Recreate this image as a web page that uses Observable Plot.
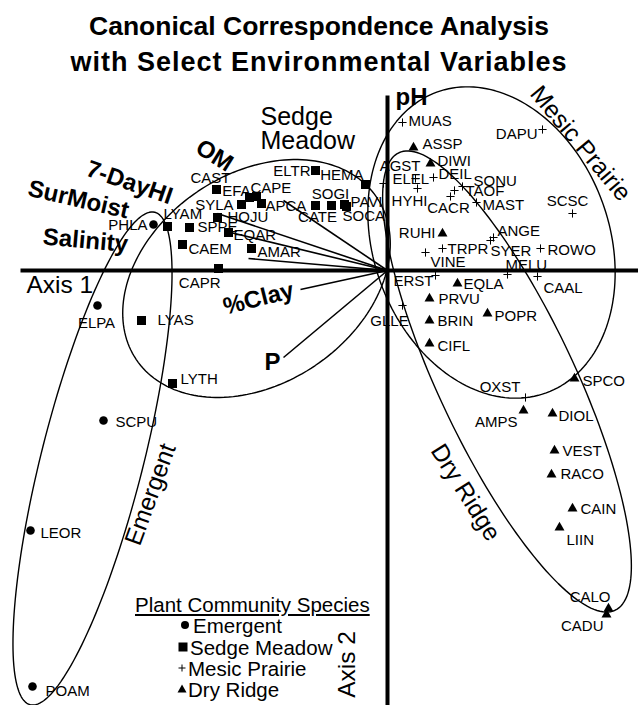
<!DOCTYPE html>
<html>
<head>
<meta charset="utf-8">
<script src="https://cdn.jsdelivr.net/npm/d3@7"></script>
<script src="https://cdn.jsdelivr.net/npm/@observablehq/plot@0.6"></script>
<style>
  body { margin: 0; background: #fff; }
  #wrap { position: relative; width: 638px; height: 705px; overflow: hidden; font-family: "Liberation Sans", Arial, Helvetica, sans-serif; color: #000; }
  #title { height: 80px; box-sizing: border-box; padding-top: 8px; text-align: center; font-weight: bold; font-size: 26.5px; line-height: 36px; }
  #title .l2 { letter-spacing: 1px; font-size: 27px; }
  #legend { position: absolute; left: 135px; top: 594px; font-size: 20.5px; line-height: 21.25px; }
  #legend .lt { text-decoration: underline; white-space: nowrap; }
  #legend .li { position: relative; white-space: nowrap; }
  #legend .li svg { position: absolute; top: 4px; }
  #chart svg { display: block; }
</style>
</head>
<body>
<div id="wrap">
  <div id="title">Canonical Correspondence Analysis<br><span class="l2">with Select Environmental Variables</span></div>
  <div id="chart"></div>
  <div id="legend"></div>
</div>
<script>
// ---------------- data (CCA scores, Axis 1 / Axis 2) ----------------
const groups = ["Emergent", "Sedge Meadow", "Mesic Prairie", "Dry Ridge"];

const emergentNames = ["PHLA","ELPA","SCPU","LEOR","POAM"];
const emergentAxis1 = [-2.34,-2.90,-2.84,-3.57,-3.55];
const emergentAxis2 = [0.46,-0.35,-1.50,-2.60,-4.16];

const sedgeNames = ["LYAM","CAST","SYLA","EFA","CAPE","APCA","HOJU","SPPE","EQAR","CAEM","AMAR","CAPR","LYAS","LYTH","ELTR","HEMA","SOGI","CATE","PAVI","SOCA"];
const sedgeAxis1 = [-2.20,-1.71,-1.46,-1.38,-1.31,-1.26,-1.70,-1.98,-1.59,-2.05,-1.36,-1.69,-2.46,-2.15,-0.72,-0.22,-0.56,-0.72,-0.43,-0.41];
const sedgeAxis2 = [0.44,0.81,0.66,0.73,0.74,0.67,0.53,0.43,0.38,0.26,0.22,0.02,-0.50,-1.13,1.00,0.86,0.65,0.65,0.66,0.64];

const mesicNames = ["MUAS","DAPU","AGST","ELEL","DEIL","SONU","TAOF","CACR","MAST","HYHI","SCSC","ANGE","SYER","TRPR","VINE","ROWO","MELU","CAAL","ERST","GLLE","OXST"];
const mesicAxis1 = [0.15,1.55,0.28,-0.04,0.46,0.75,0.67,0.63,0.89,0.30,1.85,1.06,1.03,0.55,0.38,1.53,1.20,1.50,0.48,0.15,1.38];
const mesicAxis2 = [1.48,1.41,0.92,0.87,0.93,0.84,0.80,0.74,0.68,0.82,0.57,0.33,0.30,0.22,0.18,0.22,-0.04,-0.06,-0.05,-0.35,-1.27];

const dryNames = ["ASSP","DIWI","RUHI","EQLA","PRVU","BRIN","POPR","CIFL","SPCO","AMPS","DIOL","VEST","RACO","CAIN","LIIN","CALO","CADU"];
const dryAxis1 = [0.26,0.43,0.55,0.70,0.42,0.42,1.00,0.42,1.87,1.36,1.65,1.67,1.64,1.85,1.72,2.21,2.19];
const dryAxis2 = [1.23,1.07,0.37,-0.13,-0.28,-0.50,-0.43,-0.73,-1.08,-1.40,-1.43,-1.80,-2.04,-2.38,-2.57,-3.38,-3.44];

// environmental vectors (tip) and their label anchors
const envNames = ["OM","7-DayHI","SurMoist","Salinity","%Clay","P","pH"];
const envAxis1 = [-1.04,-1.70,-1.57,-1.39,-0.87,-1.04,0];
const envAxis2 = [0.70,0.57,0.38,0.12,-0.19,-0.87,1.73];
const envLabelAxis1 = [-1.73,-2.58,-3.09,-3.02,-1.29,-1.15,0.24];
const envLabelAxis2 = [1.15,0.88,0.71,0.30,-0.28,-0.92,1.73];

// community ellipses (center, semi-axes, orientation of major axis in degrees)
const ellipseCenterAxis1 = [-2.95,-1.31,1.04,1.195];
const ellipseCenterAxis2 = [-1.88,-0.08,0.28,-1.11];
const ellipseSemiMajor = [2.54,1.45,1.60,2.53];
const ellipseSemiMinor = [0.51,1.05,1.18,0.68];
const ellipseAngle = [75.8,34,-70,-64.7];
const groupLabelAxis1 = [-2.37,-1.27,1.93,0.78];
const groupLabelAxis2 = [-2.24,1.41,1.27,-2.22];

// axes
const axisExtentAxis1 = [-3.67, 2.51];
const axisExtentAxis2 = [-4.35, 1.75];
const axisLabelNames = ["Axis 1","Axis 2"];
const axisLabelAxis1 = [-3.61,-0.40];
const axisLabelAxis2 = [-0.15,-3.94];

// ---------------- build tables ----------------
const tbl = (names, xs, ys, group) => names.map((n, i) => ({name: n, x: xs[i], y: ys[i], group}));
const emergent = tbl(emergentNames, emergentAxis1, emergentAxis2, groups[0]);
const sedge = tbl(sedgeNames, sedgeAxis1, sedgeAxis2, groups[1]);
const mesic = tbl(mesicNames, mesicAxis1, mesicAxis2, groups[2]);
const dry = tbl(dryNames, dryAxis1, dryAxis2, groups[3]);
const allSpecies = [...emergent, ...sedge, ...mesic, ...dry];

const env = envNames.map((n, i) => ({name: n, x: envAxis1[i], y: envAxis2[i], lx: envLabelAxis1[i], ly: envLabelAxis2[i]}));

const ellipsePts = groups.flatMap((g, i) => {
  const th = ellipseAngle[i] * Math.PI / 180;
  return d3.range(0, 360, 2).map(t => {
    const r = t * Math.PI / 180;
    const u = ellipseSemiMajor[i] * Math.cos(r), v = ellipseSemiMinor[i] * Math.sin(r);
    return {group: g, x: ellipseCenterAxis1[i] + u * Math.cos(th) - v * Math.sin(th),
                      y: ellipseCenterAxis2[i] + u * Math.sin(th) + v * Math.cos(th)};
  });
});
const groupLabels = groups.map((g, i) => ({name: g, x: groupLabelAxis1[i], y: groupLabelAxis2[i]}));
const axisLines = [
  {x1: axisExtentAxis1[0], y1: 0, x2: axisExtentAxis1[1], y2: 0},
  {x1: 0, y1: axisExtentAxis2[0], x2: 0, y2: axisExtentAxis2[1]}
];
const axisLabels = axisLabelNames.map((n, i) => ({name: n, x: axisLabelAxis1[i], y: axisLabelAxis2[i]}));

// ---------------- presentation ----------------
const FONT = "Liberation Sans, Arial, Helvetica, sans-serif";
// label placement: [anchor, dx px, dy px]
const nudge = {
  PHLA:["end",-6,1], ELPA:["middle",-1,18], SCPU:["start",12,2], LEOR:["start",10,3], POAM:["start",13,5],
  LYAM:["start",-4,-12], CAST:["middle",-6,-11], SYLA:["end",-8,1], EFA:["end",1,-6], CAPE:["start",-6,-8],
  APCA:["start",4,3], HOJU:["start",10,0], SPPE:["start",8,0], EQAR:["start",5,3], CAEM:["start",6,5],
  AMAR:["start",6,4], CAPR:["end",2,15], LYAS:["start",16,0], LYTH:["start",8,-4], ELTR:["end",-5,1],
  HEMA:["end",-2,-9], SOGI:["middle",-1,-11], CATE:["middle",2,12], PAVI:["start",6,-2], SOCA:["start",-4,10],
  MUAS:["start",6,-1], DAPU:["end",-5,5], AGST:["end",5,-12], ELEL:["start",9,-4], DEIL:["start",5,-3],
  SONU:["start",11,-5], TAOF:["start",11,1], CACR:["middle",-2,12], MAST:["start",6,3], HYHI:["middle",-8,13],
  SCSC:["middle",-5,-12], ANGE:["start",4,-6], SYER:["start",0,11], TRPR:["start",5,1], VINE:["start",5,10],
  ROWO:["start",7,2], MELU:["start",-2,-9], CAAL:["start",6,12], ERST:["end",-2,6], GLLE:["middle",-13,16],
  OXST:["end",-5,-10],
  ASSP:["start",9,-3], DIWI:["start",7,-2], RUHI:["end",-7,0], EQLA:["start",6,1], PRVU:["start",9,1],
  BRIN:["start",8,1], POPR:["start",7,3], CIFL:["start",8,3], SPCO:["start",8,3], AMPS:["end",-6,12],
  DIOL:["start",6,3], VEST:["start",8,1], RACO:["start",9,0], CAIN:["start",8,1], LIIN:["start",7,13],
  CALO:["end",2,-11], CADU:["end",-3,12]
};
const envRotate = {"OM": 32, "7-DayHI": 19, "SurMoist": 13, "Salinity": 5, "%Clay": -14, "P": 0, "pH": 0};
const groupRotate = {"Emergent": -70, "Mesic Prairie": 50, "Dry Ridge": 58};

const chart = Plot.plot({
  width: 638, height: 625, margin: 0,
  x: {domain: [-3.87, 2.51], axis: null},
  y: {domain: [-4.35, 1.90], axis: null},
  style: {fontFamily: FONT, background: "white", color: "black"},
  marks: [
    Plot.line(ellipsePts, {x: "x", y: "y", z: "group", stroke: "black", strokeWidth: 1.4, curve: "linear-closed"}),
    Plot.link(axisLines, {x1: "x1", y1: "y1", x2: "x2", y2: "y2", stroke: "black", strokeWidth: 4}),
    Plot.link(env, {x1: 0, y1: 0, x2: "x", y2: "y", stroke: "black", strokeWidth: 1.6}),
    Plot.dot(emergent, {x: "x", y: "y", symbol: "circle", r: 4.3, fill: "black", stroke: "none"}),
    Plot.dot(sedge, {x: "x", y: "y", symbol: "square", r: 5.1, fill: "black", stroke: "none"}),
    Plot.dot(mesic, {x: "x", y: "y", symbol: "plus", r: 2.75, fill: "none", stroke: "black", strokeWidth: 1}),
    Plot.dot(dry, {x: "x", y: "y", symbol: "triangle", r: 3.7, fill: "black", stroke: "none"}),
    ...allSpecies.map(d => {
      const [a, dx, dy] = nudge[d.name];
      return Plot.text([d], {x: "x", y: "y", text: "name", textAnchor: a, dx, dy, fontSize: 15, fill: "black"});
    }),
    Plot.text(env, {x: "lx", y: "ly", text: "name", rotate: d => envRotate[d.name], fontSize: 24, fontWeight: "bold", fill: "black"}),
    Plot.text(groupLabels.filter(d => d.name !== "Sedge Meadow"), {x: "x", y: "y", text: "name", rotate: d => groupRotate[d.name], fontSize: 24.5, fill: "black"}),
    Plot.text(groupLabels.filter(d => d.name === "Sedge Meadow"), {x: "x", y: "y", text: d => d.name.replace(" ", "\n"), textAnchor: "start", lineHeight: 0.96, fontSize: 25, fill: "black"}),
    Plot.text(axisLabels.filter(d => d.name === "Axis 1"), {x: "x", y: "y", text: "name", textAnchor: "start", fontSize: 24.5, fill: "black"}),
    Plot.text(axisLabels.filter(d => d.name === "Axis 2"), {x: "x", y: "y", text: "name", rotate: -90, fontSize: 24.5, fill: "black"})
  ]
});
document.getElementById("chart").appendChild(chart);

// ---------------- legend ----------------
const legendSymbols = {
  "Emergent": '<svg width="12" height="12" style="left:44px"><circle cx="6" cy="6" r="4" fill="black"/></svg>',
  "Sedge Meadow": '<svg width="12" height="12" style="left:42px"><rect x="1.5" y="1.5" width="9" height="9" fill="black"/></svg>',
  "Mesic Prairie": '<svg width="12" height="12" style="left:41px"><path d="M6 2.5V9.5M2.5 6H9.5" stroke="black" stroke-width="1"/></svg>',
  "Dry Ridge": '<svg width="12" height="12" style="left:41px"><path d="M6 1.5L10.5 9.5H1.5Z" fill="black"/></svg>'
};
const legendTextIndent = {"Emergent": 58, "Sedge Meadow": 55, "Mesic Prairie": 53, "Dry Ridge": 53};
const legend = d3.select("#legend");
legend.append("div").attr("class", "lt").text("Plant Community Species");
groups.forEach(g => {
  const row = legend.append("div").attr("class", "li").style("padding-left", legendTextIndent[g] + "px");
  row.html(legendSymbols[g]);
  row.append("span").text(g);
});
</script>
</body>
</html>
